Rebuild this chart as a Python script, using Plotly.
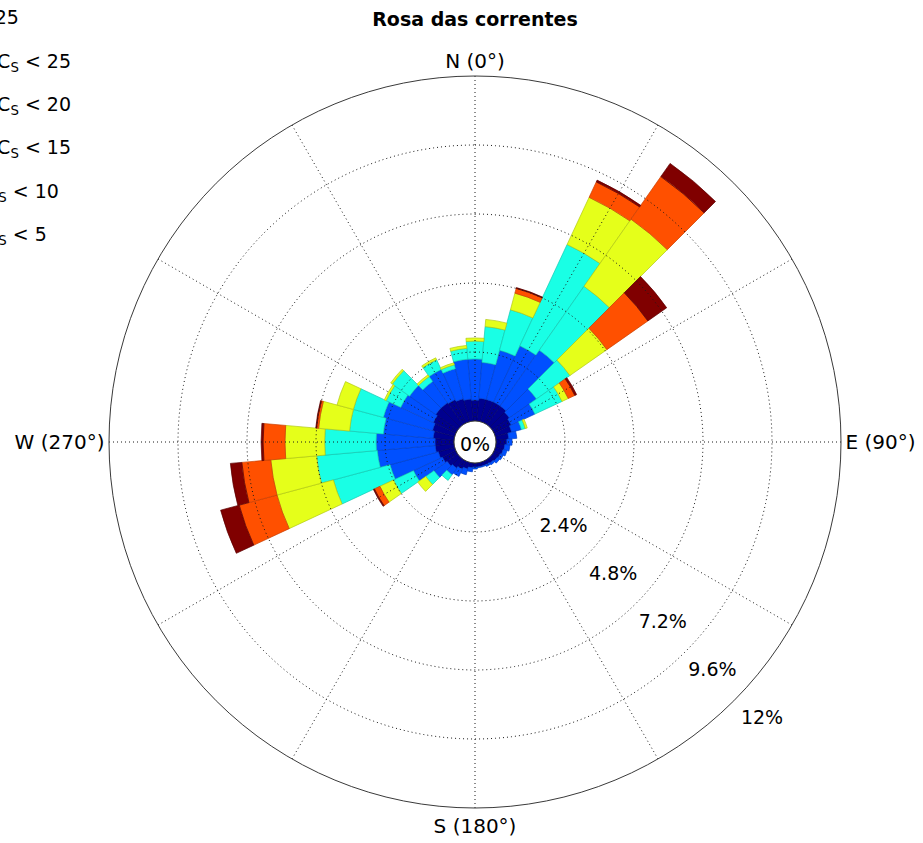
import plotly.graph_objects as go

# Direction bins (degrees, clockwise from north), 10-degree sectors
directions = list(range(0, 360, 10))

# Frequency of occurrence (%) per direction for each current-speed class (cm/s)
cs_0_5 = [0.73, 0.80, 0.80, 0.80, 0.80, 0.73, 0.66, 0.59, 0.45, 0.38, 0.31, 0.28,
          0.24, 0.21, 0.17, 0.14, 0.14, 0.14, 0.14, 0.17, 0.24, 0.31, 0.38, 0.45,
          0.52, 0.59, 0.66, 0.66, 0.73, 0.80, 0.87, 0.94, 0.94, 0.90, 0.83, 0.77]
cs_5_10 = [1.43, 1.25, 1.77, 2.16, 2.37, 1.15, 0.91, 0.35, 0.28, 0.18, 0.18, 0.14,
           0.11, 0.10, 0.07, 0.07, 0.03, 0.03, 0.07, 0.14, 0.21, 0.28, 0.28, 0.56,
           1.11, 1.74, 2.02, 2.05, 1.74, 1.77, 1.25, 1.11, 0.90, 1.15, 1.08, 1.39]
cs_10_15 = [0.62, 1.25, 1.46, 3.89, 2.71, 1.42, 1.04, 0.14, 0, 0, 0, 0,
            0, 0, 0, 0, 0, 0, 0, 0, 0, 0, 0.24, 0.35,
            0.77, 2.04, 2.12, 1.79, 1.18, 1.08, 0.56, 0.73, 0.21, 0.38, 0.14, 0.38]
cs_15_20 = [0.11, 0.25, 0.60, 1.81, 2.85, 1.57, 0.24, 0.07, 0, 0, 0, 0,
            0, 0, 0, 0, 0, 0, 0, 0, 0, 0, 0, 0.34,
            0.52, 2.03, 1.60, 1.38, 1.08, 0.59, 0.07, 0.07, 0.07, 0.07, 0.07, 0.10]
cs_20_25 = [0, 0, 0.17, 0.59, 1.81, 1.74, 0.25, 0, 0, 0, 0, 0,
            0, 0, 0, 0, 0, 0, 0, 0, 0, 0, 0, 0,
            0.21, 1.36, 1.01, 0.76, 0.07, 0, 0, 0, 0, 0, 0, 0]
cs_25_up = [0, 0, 0.03, 0.07, 0.56, 0.80, 0.07, 0, 0, 0, 0, 0,
            0, 0, 0, 0, 0, 0, 0, 0, 0, 0, 0, 0,
            0.04, 0.67, 0.40, 0.07, 0.03, 0, 0, 0, 0, 0, 0, 0]

class_names = [
    "0 ≤ C<sub>S</sub> &lt; 5",
    "5 ≤ C<sub>S</sub> &lt; 10",
    "10 ≤ C<sub>S</sub> &lt; 15",
    "15 ≤ C<sub>S</sub> &lt; 20",
    "20 ≤ C<sub>S</sub> &lt; 25",
    "C<sub>S</sub> ≥ 25",
]
class_values = [cs_0_5, cs_5_10, cs_10_15, cs_15_20, cs_20_25, cs_25_up]
fill_colors = ["#00008F", "#0050FF", "#19FFE5", "#E5FF1A", "#FF5000", "#800000"]
edge_colors = ["#00006A", "#0040C8", "#12C8B2", "#B2C814", "#C83F00", "#5C0000"]

# Radial grid (percent) and its labels
radial_ticks = [2.4, 4.8, 7.2, 9.6, 12]
radial_labels = ["2.4%", "4.8%", "7.2%", "9.6%", "12%"]
spoke_angles = list(range(0, 360, 30))
cardinal_angles = [0, 90, 180, 270]
cardinal_labels = ["N (0°)", "E (90°)", "S (180°)", "W (270°)"]

FONT = "DejaVu Sans"
R_MAX = 12          # outer ring of the rose (%)
R_LABEL_MAX = 13.2  # extended scale used only for the ring labels

# Geometry of the rose in pixels
W, H = 923, 843
CX, CY = 475, 442
R_PX, HOLE_PX = 366, 21
px_per_pct = (R_PX - HOLE_PX) / R_MAX
R2_PX = HOLE_PX + px_per_pct * R_LABEL_MAX


def square_domain(radius):
    return dict(x=[(CX - radius) / W, (CX + radius) / W],
                y=[1 - (CY + radius) / H, 1 - (CY - radius) / H])


fig = go.Figure()

for i, (name, vals, fc, ec) in enumerate(zip(class_names, class_values, fill_colors, edge_colors)):
    fig.add_trace(go.Barpolar(
        r=[v if v > 0 else None for v in vals],
        theta=directions,
        width=[10] * len(directions),
        name=name,
        legendgroup=name,
        legendrank=len(class_names) - i,
        marker=dict(color=fc, line=dict(color=ec, width=0.7)),
        hoverinfo="skip",
    ))

# Dotted grid drawn above the bars
grid_line = dict(color="#1a1a1a", width=1, dash="1px,3px")
for t in radial_ticks[:-1]:
    fig.add_trace(go.Scatterpolar(
        r=[t] * 361, theta=list(range(361)), mode="lines",
        line=grid_line, showlegend=False, hoverinfo="skip",
    ))
for a in spoke_angles:
    fig.add_trace(go.Scatterpolar(
        r=[0, R_MAX], theta=[a, a], mode="lines",
        line=grid_line, showlegend=False, hoverinfo="skip",
    ))

# Percentage labels along the south-east diagonal (same scale, wider range)
fig.add_trace(go.Scatterpolar(
    r=[t + 1.15 for t in radial_ticks], theta=[134] * len(radial_ticks),
    mode="text", text=radial_labels,
    textfont=dict(family=FONT, size=19, color="black"),
    showlegend=False, hoverinfo="skip", cliponaxis=False,
    subplot="polar2",
))

fig.update_layout(
    width=W, height=H,
    margin=dict(l=0, r=0, t=0, b=0, autoexpand=False),
    paper_bgcolor="white",
    font=dict(family=FONT, size=19, color="black"),
    title=dict(
        text="<b>Rosa das correntes</b>",
        x=CX / W, xanchor="center",
        y=1 - 19 / H, yanchor="middle",
        font=dict(family=FONT, size=19, color="black"),
    ),
    polar=dict(
        domain=square_domain(R_PX),
        bgcolor="white",
        hole=HOLE_PX / R_PX,
        bargap=0,
        barmode="stack",
        radialaxis=dict(
            range=[0, R_MAX], showgrid=False, showline=False,
            showticklabels=False, ticks="",
        ),
        angularaxis=dict(
            rotation=90, direction="clockwise",
            tickmode="array", tickvals=cardinal_angles, ticktext=cardinal_labels,
            ticks="", showgrid=False,
            showline=True, linecolor="#3a3a3a", linewidth=1,
            tickfont=dict(family=FONT, size=20, color="black"),
        ),
    ),
    polar2=dict(
        domain=square_domain(R2_PX),
        bgcolor="rgba(0,0,0,0)",
        hole=HOLE_PX / R2_PX,
        radialaxis=dict(range=[0, R_LABEL_MAX], visible=False),
        angularaxis=dict(rotation=90, direction="clockwise", visible=False),
    ),
    showlegend=True,
    legend=dict(
        x=-0.103, xanchor="left", y=1 + 2 / H, yanchor="top",
        traceorder="grouped", tracegroupgap=15.7,
        bgcolor="rgba(0,0,0,0)",
        font=dict(family=FONT, size=19, color="black"),
    ),
    annotations=[dict(
        text="0%", x=CX / W, y=1 - 444 / H, xref="paper", yref="paper",
        showarrow=False, font=dict(family=FONT, size=19, color="black"),
    )],
)

fig.write_html("out.html")
